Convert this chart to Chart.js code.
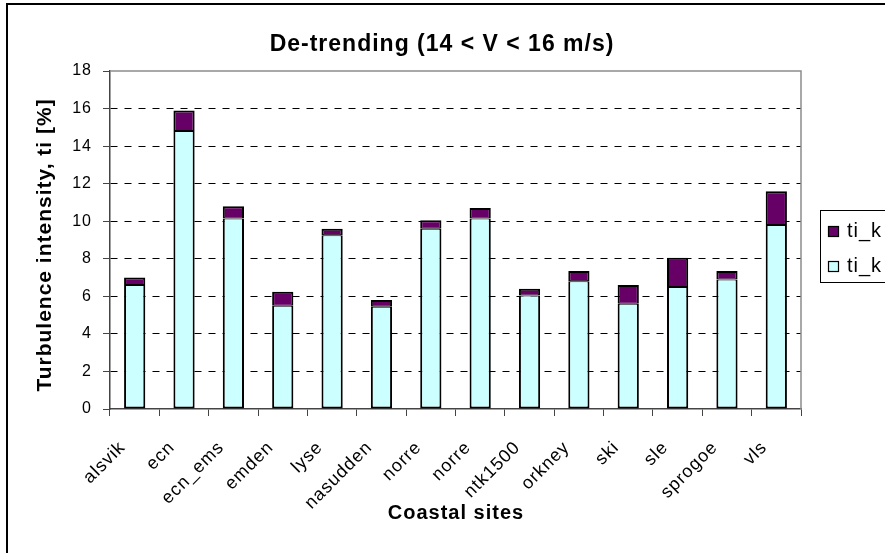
<!DOCTYPE html>
<html>
<head>
<meta charset="utf-8">
<script src="https://cdn.jsdelivr.net/npm/chart.js@4/dist/chart.umd.min.js"></script>
<style>
  html, body { margin: 0; padding: 0; background: #fff; }
  #wrap { width: 885px; height: 553px; position: relative; }
</style>
</head>
<body>
<div id="wrap"><canvas id="c" width="885" height="553"></canvas></div>
<script>
// Coastal measurement sites
const sites = ['alsvik', 'ecn', 'ecn_ems', 'emden', 'lyse', 'nasudden', 'norre', 'norre',
               'ntk1500', 'orkney', 'ski', 'sle', 'sprogoe', 'vls'];

// Turbulence intensity after de-trending (lower segment), %
const tiDetrended = [6.6, 14.8, 10.15, 5.5, 9.25, 5.45, 9.6, 10.15, 6.05, 6.8, 5.6, 6.5, 6.9, 9.8];

// Turbulence intensity before de-trending (full bar height), %
const tiRaw = [7.0, 15.9, 10.8, 6.25, 9.6, 5.8, 10.05, 10.7, 6.4, 7.35, 6.6, 8.05, 7.35, 11.6];

// Y axis tick values
const yTicks = [0, 2, 4, 6, 8, 10, 12, 14, 16, 18];

const seriesLabels = ['ti_k', 'ti_k'];

const chartTitle = 'De-trending (14 < V < 16 m/s)';
const xTitle = 'Coastal sites';
const yTitle = 'Turbulence intensity, ti [%]';

const FONT = '"Liberation Sans", Arial, sans-serif';

// Part of the raw intensity removed by de-trending (upper segment)
const tiTrend = tiRaw.map((v, i) => +(v - tiDetrended[i]).toFixed(2));

const frame = {
  id: 'frame',
  beforeDraw(chart) {
    const ctx = chart.ctx;
    ctx.save();
    ctx.fillStyle = '#fff';
    ctx.fillRect(0, 0, chart.width, chart.height);
    ctx.restore();
    // slightly open letter spacing for all text
    ctx.letterSpacing = '1px';
  },
  afterDraw(chart) {
    const ctx = chart.ctx;
    const a = chart.chartArea;
    ctx.save();
    // outer frame
    ctx.strokeStyle = '#000';
    ctx.lineWidth = 2;
    ctx.beginPath();
    ctx.moveTo(7, chart.height);
    ctx.lineTo(7, 4);
    ctx.lineTo(chart.width, 4);
    ctx.stroke();

    // plot area border (top and right)
    ctx.strokeStyle = '#8c8c8c';
    ctx.lineWidth = 1.5;
    ctx.beginPath();
    ctx.moveTo(a.left, a.top);
    ctx.lineTo(a.right, a.top);
    ctx.lineTo(a.right, a.bottom);
    ctx.stroke();

    ctx.fillStyle = '#000';
    ctx.textAlign = 'center';
    ctx.textBaseline = 'middle';

    // chart title
    ctx.letterSpacing = '1px';
    ctx.font = 'bold 23px ' + FONT;
    ctx.fillText(chartTitle, 442, 45);

    // axis titles
    ctx.font = 'bold 20px ' + FONT;
    ctx.fillText(xTitle, 456, 513);

    ctx.save();
    ctx.translate(45, 245);
    ctx.rotate(-Math.PI / 2);
    ctx.font = 'bold 21px ' + FONT;
    ctx.fillText(yTitle, 0, 0);
    ctx.restore();

    // legend
    const lx = 820.5, ly = 210.5;
    ctx.strokeStyle = '#000';
    ctx.lineWidth = 1;
    ctx.strokeRect(lx, ly, 80, 72);
    const items = [
      { label: seriesLabels[1], color: chart.data.datasets[1].backgroundColor, y: 231.5 },
      { label: seriesLabels[0], color: chart.data.datasets[0].backgroundColor, y: 266.5 }
    ];
    ctx.font = '20px ' + FONT;
    ctx.textAlign = 'left';
    items.forEach(it => {
      ctx.fillStyle = it.color;
      ctx.fillRect(828.5, it.y - 5, 10, 10);
      ctx.strokeStyle = '#000';
      ctx.lineWidth = 1.2;
      ctx.strokeRect(828.5, it.y - 5, 10, 10);
      ctx.fillStyle = '#000';
      ctx.fillText(it.label, 847, it.y);
    });
    ctx.restore();
  }
};

new Chart(document.getElementById('c'), {
  type: 'bar',
  data: {
    labels: sites,
    datasets: [
      {
        label: seriesLabels[0],
        data: tiDetrended,
        backgroundColor: '#ccffff',
        borderColor: '#000',
        borderWidth: { top: 1, left: 2, right: 2, bottom: 2 },
        borderSkipped: false
      },
      {
        label: seriesLabels[1],
        data: tiTrend,
        backgroundColor: '#660066',
        borderColor: '#000',
        borderWidth: { top: 2, left: 2, right: 2, bottom: 1 },
        borderSkipped: false
      }
    ]
  },
  options: {
    responsive: false,
    animation: false,
    devicePixelRatio: 1,
    layout: { padding: { left: 0, top: 71, right: 84, bottom: 0 } },
    datasets: { bar: { barPercentage: 0.43, categoryPercentage: 1 } },
    plugins: {
      legend: { display: false },
      title: { display: false },
      tooltip: { enabled: false }
    },
    scales: {
      x: {
        stacked: true,
        afterFit(scale) { scale.height = 144; },
        grid: {
          offset: true,
          drawOnChartArea: false,
          drawTicks: true,
          tickLength: 7,
          color: '#444',
          lineWidth: 1
        },
        border: { display: true, color: '#444', width: 1.5 },
        ticks: {
          autoSkip: false,
          minRotation: 45,
          maxRotation: 45,
          padding: 21,
          labelOffset: -12,
          color: '#000',
          font: { family: FONT, size: 18 }
        }
      },
      y: {
        stacked: true,
        min: 0,
        max: 18,
        afterFit(scale) { scale.width = 110; },
        afterBuildTicks(scale) { scale.ticks = yTicks.map(v => ({ value: v })); },
        grid: {
          drawTicks: true,
          tickLength: 7,
          color: (c) => (c.tick && c.tick.value > 0 && c.tick.value < 18) ? '#000' : 'rgba(0,0,0,0)',
          tickColor: '#444',
          lineWidth: 1
        },
        border: { display: true, color: '#444', width: 1.5, dash: [7, 7] },
        ticks: {
          padding: 11,
          color: '#000',
          font: { family: FONT, size: 16 }
        }
      }
    }
  },
  plugins: [frame]
});
</script>
</body>
</html>
